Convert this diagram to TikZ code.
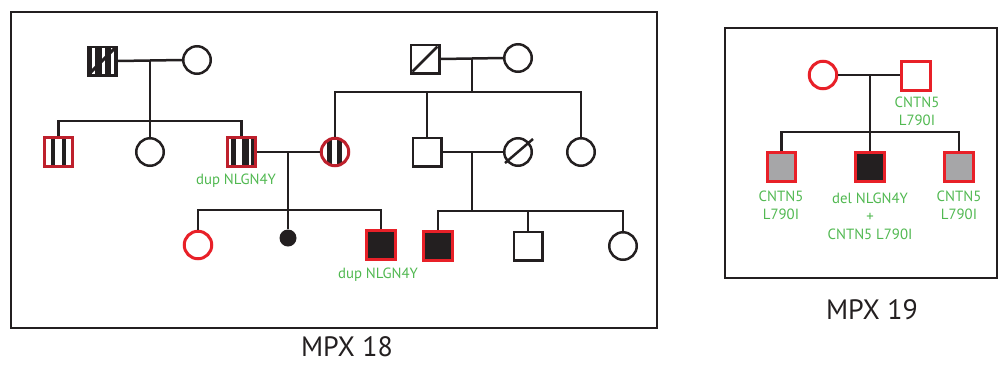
\documentclass[tikz,border=0pt]{standalone}
\usepackage{fontspec}
\setmainfont{PT Sans}
\usetikzlibrary{calc}
\definecolor{pred}{RGB}{232,32,40}
\definecolor{dred}{RGB}{190,32,44}
\definecolor{pgreen}{RGB}{80,184,80}
\definecolor{pgray}{RGB}{166,166,168}
\definecolor{pblack}{RGB}{35,31,32}
\newcommand\vst[3]{\fill[#3] ($(path picture bounding box.center)+(#1,-25)$) rectangle ($(path picture bounding box.center)+(#2,25)$);}
\tikzset{
  pline/.style={line width=2.5pt, draw=pblack},
  male/.style={rectangle, draw=pblack, line width=2.5pt, minimum size=28.5pt, inner sep=0pt, fill=white},
  female/.style={circle, draw=pblack, line width=2.5pt, minimum size=27.5pt, inner sep=0pt, fill=white},
  redborder/.style={draw=pred, line width=3pt},
  darkborder/.style={draw=dred, line width=3pt},
  affected/.style={fill=pblack},
  carrier/.style={fill=pgray},
  smallfem/.style={circle, fill=pblack, minimum size=17pt, inner sep=0pt},
  note/.style={text=pgreen, font=\fontsize{14.8}{18}\selectfont, align=center, inner sep=0pt},
  title/.style={text=pblack, font=\fontsize{28}{32}\selectfont, inner sep=0pt},
  framebox/.style={draw=pblack, line width=2.5pt},
  decslash/.style={draw=pblack, line width=2.5pt},
  stripesA/.style={path picture={\vst{-7.5}{-4}{pblack}\vst{3.5}{7.5}{pblack}}},
  stripesB/.style={path picture={\vst{-11}{-5.5}{pblack}\vst{0}{7}{pblack}\vst{9.5}{12.5}{pblack}}},
  stripesC/.style={path picture={\vst{-8}{-3}{pblack}\vst{2}{7}{pblack}}},
  stripesD/.style={path picture={\vst{-10}{-7}{white}\vst{0}{3}{white}\vst{9}{12}{white}
     \draw[pblack, line width=3pt] (path picture bounding box.south west) -- (path picture bounding box.north east);}},
}
\begin{document}
\begin{tikzpicture}[x=1pt,y=-1pt]
\useasboundingbox (0,0) rectangle (1005,365);
% frames
\draw[framebox] (11,12) rectangle (657,328);
\draw[framebox] (725,28) rectangle (997,278);
\node[title] (t18) at (347,347) {MPX 18};
\node[title] (t19) at (872,310) {MPX 19};

% ---------- MPX 18 ----------
% generation I, left couple
\node[male, affected, stripesD] (g1m) at (102,61) {};
\node[female] (g1f) at (197,60) {};
\coordinate (g1c) at (150,60);
\coordinate (g1s) at (150,121);
\draw[pline] (g1m.east) -- (g1f.west);
\draw[pline] (g1c) -- (g1s);

% generation I, right couple
\node[male] (g1m2) at (425,59) {};
\draw[decslash] ($(g1m2.south west)+(3,-3)$) -- ($(g1m2.north east)+(-3,3)$);
\node[female] (g1f2) at (518,58) {};
\coordinate (g1c2) at (472,58);
\coordinate (g1s2) at (472,92);
\draw[pline] (g1m2.east) -- (g1f2.west);
\draw[pline] (g1c2) -- (g1s2);

% generation II
\node[male, darkborder, stripesA] (a1) at (58.5,152) {};
\node[female] (a2) at (150,152) {};
\node[male, darkborder, stripesB] (a3) at (241.5,152) {};
\node[female, darkborder, stripesC] (a4) at (335,152) {};
\node[male] (a5) at (427,152) {};
\node[female] (a6) at (518,152) {};
\draw[decslash] ($(a6.center)+(-13,11)$) -- ($(a6.center)+(15,-13)$);
\node[female] (a7) at (581,152) {};
\draw[pline] (a1.north) |- (g1s);
\draw[pline] (a2.north) |- (g1s);
\draw[pline] (a3.north) |- (g1s);
\draw[pline] (a4.north) |- (g1s2);
\draw[pline] (a5.north) |- (g1s2);
\draw[pline] (a7.north) |- (g1s2);
\node[note] (l1) at (236,181) {dup NLGN4Y};

% couples of generation II
\coordinate (c2a) at (288,152);
\coordinate (s2a) at (288,210);
\draw[pline] (a3.east) -- (a4.west);
\draw[pline] (c2a) -- (s2a);
\coordinate (c2b) at (472,152);
\coordinate (s2b) at (472,211);
\draw[pline] (a5.east) -- (a6.west);
\draw[pline] (c2b) -- (s2b);

% generation III
\node[female, redborder] (b1) at (198,245) {};
\node[smallfem] (b2) at (288,238) {};
\node[male, redborder, affected] (b3) at (381,245) {};
\node[male, redborder, affected] (b4) at (438,246) {};
\node[male] (b5) at (528,246) {};
\node[female] (b6) at (623,246) {};
\draw[pline] (b1.north) |- (s2a);
\draw[pline] (b2.north) |- (s2a);
\draw[pline] (b3.north) |- (s2a);
\draw[pline] (b4.north) |- (s2b);
\draw[pline] (b5.north) |- (s2b);
\draw[pline] (b6.north) |- (s2b);
\node[note] (l2) at (378,275) {dup NLGN4Y};

% ---------- MPX 19 ----------
\node[female, redborder] (m19f) at (823,75) {};
\node[male, redborder] (m19m) at (916,76) {};
\coordinate (m19c) at (870,75);
\coordinate (m19s) at (870,132);
\draw[pline] (m19f.east) -- (m19m.west |- m19c);
\draw[pline] (m19c) -- (m19s);
\node[note] (l3) at (917,111) {CNTN5\\L790I};
\node[male, redborder, carrier] (k1) at (781.5,167) {};
\node[male, redborder, affected] (k2) at (870,167) {};
\node[male, redborder, carrier] (k3) at (959,167) {};
\draw[pline] (k1.north) |- (m19s);
\draw[pline] (k2.north) |- (m19s);
\draw[pline] (k3.north) |- (m19s);
\node[note] (l4) at (781,205) {CNTN5\\L790I};
\node[note] (l5) at (870,216) {del NLGN4Y\\+\\CNTN5 L790I};
\node[note] (l6) at (959,205) {CNTN5\\L790I};
\end{tikzpicture}
\end{document}
